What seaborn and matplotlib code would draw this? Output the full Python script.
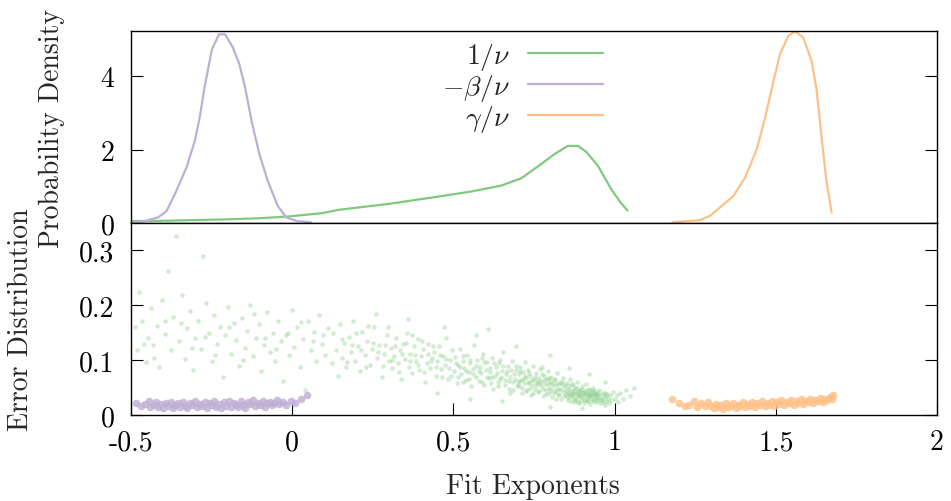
import matplotlib
matplotlib.use("Agg")
import matplotlib.pyplot as plt
import seaborn as sns
import pandas as pd

# ---------------- data: density curves ----------------
nu_x = [-0.500, -0.400, -0.300, -0.200, -0.100, -0.009, 0.094, 0.145, 0.299, 0.454, 0.557,
        0.649, 0.711, 0.773, 0.814, 0.855, 0.886, 0.912, 0.948, 0.989, 1.020, 1.040]
nu_y = [0.05, 0.06, 0.08, 0.10, 0.13, 0.18, 0.27, 0.36, 0.52, 0.72, 0.86,
        1.02, 1.22, 1.61, 1.88, 2.10, 2.10, 1.94, 1.56, 0.93, 0.54, 0.34]

beta_x = [-0.500, -0.457, -0.416, -0.390, -0.359, -0.328, -0.302, -0.287, -0.272, -0.249, -0.227,
          -0.208, -0.184, -0.164, -0.146, -0.126, -0.102, -0.076, -0.045, -0.019, 0.016, 0.058]
beta_y = [0.01, 0.05, 0.155, 0.32, 0.88, 1.51, 2.24, 2.87, 3.69, 4.73, 5.14,
          5.14, 4.78, 4.33, 3.69, 2.78, 1.88, 1.15, 0.47, 0.155, 0.05, 0.02]

gamma_x = [1.179, 1.266, 1.297, 1.369, 1.405, 1.441, 1.467, 1.493, 1.513, 1.539, 1.560,
           1.585, 1.611, 1.627, 1.642, 1.657, 1.673]
gamma_y = [0.02, 0.08, 0.20, 0.74, 1.24, 2.01, 2.87, 3.87, 4.60, 5.10, 5.22,
           5.05, 4.42, 3.60, 2.33, 1.15, 0.29]

# ---------------- data: error scatter (estimated representative points) ----------------
green_x = [
    -0.488, -0.482, -0.474, -0.466, -0.455, -0.447, -0.438, -0.431, -0.420, -0.412, -0.404, -0.396,
    -0.384, -0.377, -0.369, -0.359, -0.351, -0.343, -0.334, -0.326, -0.317, -0.309, -0.300, -0.292,
    -0.283, -0.276, -0.268, -0.259, -0.250, -0.242, -0.233, -0.225, -0.216, -0.207, -0.199, -0.190,
    -0.182, -0.173, -0.164, -0.156, -0.147, -0.139, -0.130, -0.121, -0.113, -0.104, -0.096, -0.087,
    -0.079, -0.070, -0.061, -0.053, -0.044, -0.036, -0.027, -0.019, -0.010, -0.002, 0.007, 0.015,
    0.024, 0.033, 0.041, 0.050, 0.058, 0.067, 0.075, 0.084, 0.092, 0.101, 0.110,
    -0.461, -0.428, -0.393, -0.346, -0.312, -0.271, -0.238, -0.196, -0.152, -0.118, -0.083, -0.049,
    -0.013, 0.028, 0.063, 0.097,
    0.122, 0.128, 0.135, 0.141, 0.148, 0.155, 0.161, 0.168, 0.175, 0.182, 0.189, 0.196, 0.203,
    0.210, 0.218, 0.225, 0.232, 0.240, 0.247, 0.255, 0.262, 0.270, 0.277, 0.285, 0.293, 0.300,
    0.305, 0.311, 0.316, 0.322, 0.327, 0.333, 0.338, 0.344, 0.350, 0.355, 0.361, 0.366, 0.372,
    0.378, 0.383, 0.389, 0.394, 0.400, 0.406, 0.411, 0.417, 0.422, 0.428, 0.434, 0.439, 0.445,
    0.450, 0.456, 0.462, 0.467, 0.473, 0.478, 0.484, 0.490, 0.495,
    0.502, 0.506, 0.511, 0.515, 0.520, 0.524, 0.529, 0.533, 0.538, 0.542, 0.547, 0.551, 0.556,
    0.560, 0.565, 0.569, 0.574, 0.578, 0.583, 0.587, 0.592, 0.596, 0.601, 0.605, 0.610, 0.614,
    0.619, 0.623, 0.628, 0.632, 0.637, 0.641, 0.646, 0.650, 0.655, 0.659, 0.664, 0.668, 0.673,
    0.677, 0.682, 0.686, 0.691, 0.695, 0.699, 0.608, 0.694, 0.570,
    0.702, 0.705, 0.708, 0.711, 0.714, 0.717, 0.720, 0.723, 0.726, 0.729, 0.732, 0.735, 0.738,
    0.741, 0.744, 0.747, 0.750, 0.753, 0.756, 0.759, 0.762, 0.765, 0.768, 0.771, 0.774, 0.777,
    0.780, 0.783, 0.786, 0.789, 0.792, 0.795, 0.798, 0.801, 0.804, 0.807, 0.810, 0.813, 0.816,
    0.819, 0.822, 0.825, 0.828, 0.831, 0.834, 0.837, 0.840, 0.843, 0.846, 0.849,
    0.852, 0.855, 0.857, 0.860, 0.862, 0.865, 0.868, 0.870, 0.873, 0.875, 0.878, 0.881, 0.883,
    0.886, 0.888, 0.891, 0.894, 0.896, 0.899, 0.901, 0.904, 0.907, 0.909, 0.912, 0.914, 0.917,
    0.920, 0.922, 0.925, 0.927, 0.930, 0.933, 0.935, 0.938, 0.940, 0.943, 0.946, 0.948, 0.951,
    0.953, 0.956, 0.959, 0.961, 0.964, 0.966, 0.969, 0.972, 0.974, 0.977, 0.980, 0.983, 0.986,
    0.990, 0.995, 1.000, 1.006, 1.012, 1.018, 1.025, 1.034, 1.048, 1.060,
    0.450, 0.550, 0.650, 0.800, 0.900, 0.360, 0.260, 0.470, 0.800, 0.860, 0.920, 0.970,
    0.153, 0.171, 0.186, 0.199, 0.214, 0.228, 0.236, 0.251, 0.266, 0.281, 0.289, 0.297, 0.309,
    0.319, 0.331, 0.341, 0.353, 0.364, 0.371, 0.382, 0.391, 0.403, 0.409, 0.420, 0.431, 0.437,
    0.447, 0.459, 0.466, 0.478,
    0.487, 0.494, 0.508, 0.513, 0.522, 0.531, 0.540, 0.549, 0.553, 0.562, 0.571, 0.580, 0.589,
    0.594, 0.603, 0.612, 0.617, 0.626, 0.634, 0.639, 0.648, 0.653, 0.661, 0.666, 0.671, 0.679,
    0.684, 0.688, 0.693, 0.697, 0.531, 0.588, 0.645, 0.675, 0.621,
    0.703, 0.707, 0.712, 0.716, 0.721, 0.725, 0.730, 0.734, 0.739, 0.743, 0.748, 0.752, 0.757,
    0.761, 0.766, 0.770, 0.775, 0.779, 0.784, 0.788, 0.793, 0.797, 0.802, 0.806, 0.811, 0.815,
    0.820, 0.824, 0.829, 0.833, 0.838, 0.842, 0.847, 0.776, 0.818,
    0.851, 0.854, 0.858, 0.861, 0.864, 0.867, 0.869, 0.872, 0.874, 0.877, 0.880, 0.882, 0.885,
    0.887, 0.890, 0.893, 0.895, 0.898, 0.900, 0.903, 0.906, 0.908, 0.911, 0.913, 0.916, 0.919,
    0.921, 0.924, 0.926, 0.929, 0.932, 0.934, 0.937, 0.939, 0.942, 0.945, 0.950, 0.958, 0.963,
    0.970]
green_y = [
    0.160, 0.118, 0.225, 0.172, 0.096, 0.140, 0.195, 0.128, 0.163, 0.087, 0.210, 0.148,
    0.262, 0.118, 0.178, 0.326, 0.135, 0.218, 0.102, 0.158, 0.190, 0.082, 0.141, 0.172,
    0.121, 0.290, 0.205, 0.150, 0.098, 0.183, 0.130, 0.161, 0.070, 0.145, 0.196, 0.112,
    0.168, 0.137, 0.090, 0.176, 0.122, 0.153, 0.201, 0.108, 0.140, 0.165, 0.080, 0.128,
    0.187, 0.115, 0.150, 0.098, 0.172, 0.134, 0.062, 0.145, 0.110, 0.192, 0.124, 0.160,
    0.088, 0.139, 0.045, 0.172, 0.118, 0.151, 0.098, 0.182, 0.130, 0.110, 0.158,
    0.130, 0.104, 0.172, 0.168, 0.122, 0.142, 0.110, 0.160, 0.100, 0.185, 0.140, 0.120,
    0.150, 0.170, 0.135, 0.145,
    0.095, 0.150, 0.118, 0.072, 0.165, 0.104, 0.131, 0.088, 0.142, 0.115, 0.172, 0.098, 0.125,
    0.080, 0.152, 0.110, 0.135, 0.092, 0.120, 0.160, 0.103, 0.128, 0.070, 0.112, 0.145, 0.098,
    0.122, 0.085, 0.108, 0.140, 0.095, 0.118, 0.065, 0.130, 0.102, 0.150, 0.088, 0.112, 0.076,
    0.125, 0.098, 0.138, 0.082, 0.108, 0.120, 0.060, 0.094, 0.130, 0.086, 0.104, 0.115, 0.072,
    0.098, 0.126, 0.083, 0.108, 0.092, 0.140, 0.066, 0.100, 0.118,
    0.080, 0.105, 0.058, 0.092, 0.120, 0.074, 0.098, 0.086, 0.064, 0.110, 0.078, 0.094, 0.052,
    0.084, 0.128, 0.070, 0.100, 0.062, 0.088, 0.076, 0.112, 0.055, 0.082, 0.096, 0.068, 0.078,
    0.104, 0.048, 0.072, 0.088, 0.060, 0.094, 0.066, 0.080, 0.115, 0.054, 0.074, 0.090, 0.062,
    0.070, 0.098, 0.045, 0.066, 0.082, 0.058, 0.157, 0.126, 0.145,
    0.074, 0.052, 0.088, 0.064, 0.040, 0.078, 0.058, 0.096, 0.068, 0.046, 0.082, 0.060, 0.072,
    0.036, 0.054, 0.090, 0.064, 0.048, 0.076, 0.058, 0.042, 0.068, 0.084, 0.052, 0.062, 0.034,
    0.072, 0.056, 0.046, 0.066, 0.080, 0.050, 0.040, 0.060, 0.070, 0.032, 0.052, 0.064, 0.044,
    0.056, 0.076, 0.038, 0.048, 0.060, 0.030, 0.054, 0.068, 0.042, 0.050, 0.036,
    0.058, 0.040, 0.028, 0.048, 0.066, 0.034, 0.044, 0.054, 0.024, 0.038, 0.050, 0.030, 0.060,
    0.042, 0.036, 0.022, 0.046, 0.032, 0.052, 0.040, 0.028, 0.044, 0.036, 0.056, 0.026, 0.038,
    0.048, 0.032, 0.020, 0.042, 0.034, 0.050, 0.028, 0.038, 0.044, 0.024, 0.032, 0.040, 0.030,
    0.046, 0.022, 0.036, 0.028, 0.040, 0.032, 0.018, 0.034, 0.026, 0.038, 0.030, 0.022, 0.036,
    0.028, 0.042, 0.030, 0.036, 0.024, 0.040, 0.030, 0.046, 0.034, 0.050,
    0.040, 0.030, 0.025, 0.015, 0.012, 0.175, 0.185, 0.160, 0.110, 0.085, 0.075, 0.060,
    0.138, 0.097, 0.128, 0.150, 0.118, 0.087, 0.162, 0.132, 0.115, 0.090, 0.128, 0.160, 0.100,
    0.126, 0.078, 0.112, 0.132, 0.098, 0.145, 0.110, 0.092, 0.135, 0.078, 0.112, 0.098, 0.125,
    0.088, 0.110, 0.070, 0.102,
    0.086, 0.072, 0.094, 0.070, 0.088, 0.108, 0.080, 0.066, 0.100, 0.074, 0.090, 0.080, 0.060,
    0.096, 0.070, 0.086, 0.058, 0.094, 0.076, 0.052, 0.070, 0.090, 0.064, 0.080, 0.048, 0.082,
    0.060, 0.074, 0.090, 0.052, 0.060, 0.104, 0.100, 0.040, 0.070,
    0.062, 0.080, 0.050, 0.066, 0.072, 0.044, 0.058, 0.076, 0.050, 0.064, 0.040, 0.070, 0.054,
    0.062, 0.044, 0.058, 0.074, 0.048, 0.064, 0.038, 0.056, 0.068, 0.046, 0.058, 0.040, 0.066,
    0.048, 0.056, 0.036, 0.046, 0.060, 0.034, 0.054, 0.088, 0.030,
    0.044, 0.032, 0.052, 0.038, 0.026, 0.056, 0.040, 0.032, 0.046, 0.028, 0.040, 0.050, 0.034,
    0.024, 0.044, 0.036, 0.028, 0.042, 0.048, 0.034, 0.022, 0.040, 0.030, 0.046, 0.034, 0.026,
    0.040, 0.036, 0.030, 0.046, 0.026, 0.036, 0.042, 0.032, 0.038, 0.028, 0.036, 0.030, 0.024,
    0.040]

purple_x = [
    -0.485, -0.470, -0.458, -0.445, -0.440,
    -0.430, -0.422, -0.415, -0.407, -0.400, -0.392, -0.385, -0.377, -0.370, -0.362, -0.355,
    -0.347, -0.340, -0.332, -0.325, -0.317, -0.310, -0.302, -0.295, -0.287, -0.280, -0.272,
    -0.265, -0.257, -0.250, -0.242, -0.235, -0.227, -0.220, -0.212, -0.205, -0.197, -0.190,
    -0.182, -0.175, -0.167, -0.160, -0.152, -0.145, -0.137, -0.130, -0.122, -0.115, -0.107,
    -0.100, -0.092, -0.085, -0.077, -0.070, -0.062, -0.055, -0.048, -0.040,
    -0.030, -0.018, -0.005, 0.010, 0.028, 0.045]
purple_y = [
    0.022, 0.016, 0.020, 0.025, 0.014,
    0.018, 0.023, 0.014, 0.020, 0.012, 0.022, 0.016, 0.024, 0.013, 0.019, 0.021,
    0.015, 0.024, 0.017, 0.012, 0.022, 0.018, 0.025, 0.014, 0.020, 0.016, 0.023,
    0.013, 0.021, 0.018, 0.025, 0.015, 0.020, 0.012, 0.023, 0.017, 0.026, 0.015,
    0.021, 0.019, 0.014, 0.025, 0.018, 0.013, 0.023, 0.020, 0.027, 0.016, 0.022,
    0.018, 0.025, 0.015, 0.021, 0.024, 0.018, 0.022, 0.027, 0.020,
    0.024, 0.019, 0.026, 0.022, 0.030, 0.036]

orange_x = [
    1.179, 1.200, 1.218, 1.232, 1.245, 1.256, 1.268, 1.280, 1.290,
    1.300, 1.307, 1.315, 1.322, 1.330, 1.337, 1.345, 1.352, 1.360, 1.367, 1.375, 1.382, 1.390,
    1.397, 1.405, 1.412, 1.420, 1.427, 1.435, 1.442, 1.450, 1.457, 1.465, 1.472, 1.480, 1.487,
    1.495, 1.502, 1.510, 1.517, 1.525, 1.532, 1.540, 1.547, 1.555, 1.562, 1.570, 1.577, 1.585,
    1.592, 1.600, 1.607, 1.615, 1.622, 1.630, 1.637, 1.645, 1.652, 1.660, 1.667, 1.674, 1.678]
orange_y = [
    0.029, 0.022, 0.016, 0.019, 0.025, 0.015, 0.021, 0.017, 0.024,
    0.016, 0.012, 0.020, 0.014, 0.018, 0.011, 0.021, 0.015, 0.017, 0.022, 0.013, 0.019, 0.016,
    0.023, 0.014, 0.020, 0.017, 0.024, 0.015, 0.021, 0.018, 0.025, 0.016, 0.022, 0.019, 0.026,
    0.017, 0.023, 0.020, 0.027, 0.018, 0.024, 0.021, 0.028, 0.019, 0.025, 0.022, 0.029, 0.020,
    0.026, 0.024, 0.030, 0.022, 0.028, 0.025, 0.031, 0.024, 0.030, 0.027, 0.033, 0.029, 0.036]

labels = [r"$1/\nu$", r"$-\beta/\nu$", r"$\gamma/\nu$"]
x_ticks = [-0.5, 0, 0.5, 1, 1.5, 2]
x_tick_labels = ["-0.5", "0", "0.5", "1", "1.5", "2"]
top_ticks = [0, 2, 4]
top_tick_labels = ["0", "2", "4"]
bot_ticks = [0, 0.1, 0.2, 0.3]
bot_tick_labels = ["0", "0.1", "0.2", "0.3"]

# ---------------- style ----------------
sns.set_theme(style="ticks")
FS = 20
plt.rcParams.update({
    "font.family": ["cmr10", "DejaVu Serif"],
    "mathtext.fontset": "cm",
    "axes.unicode_minus": False,
    "axes.formatter.use_mathtext": True,
    "axes.edgecolor": "black",
    "axes.linewidth": 1.0,
    "font.size": FS,
})
pal = sns.color_palette("Accent", 3)
c_green, c_purple, c_orange = pal[0], pal[1], pal[2]

W, H = 951, 502
fig, (ax1, ax2) = plt.subplots(2, 1, figsize=(W / 100, H / 100), dpi=100, sharex=True)
fig.subplots_adjust(left=131 / W, right=937 / W, top=1 - 32 / H, bottom=1 - 416 / H, hspace=0)

dens = pd.DataFrame({"x": nu_x + beta_x + gamma_x,
                     "y": nu_y + beta_y + gamma_y,
                     "s": [labels[0]] * len(nu_x) + [labels[1]] * len(beta_x) + [labels[2]] * len(gamma_x)})
for lab, col in zip(labels, [c_green, c_purple, c_orange]):
    sub = dens[dens["s"] == lab]
    sns.lineplot(data=sub, x="x", y="y", color=col, lw=1.6, ax=ax1, label=lab, sort=False)

sns.scatterplot(x=green_x, y=green_y, color=c_green, s=11, alpha=0.35, linewidth=0, ax=ax2)
sns.scatterplot(x=purple_x, y=purple_y, color=c_purple, s=30, alpha=0.8, linewidth=0, ax=ax2)
sns.scatterplot(x=orange_x, y=orange_y, color=c_orange, s=30, alpha=0.8, linewidth=0, ax=ax2)

ax1.set_xlim(-0.5, 2)
ax1.set_ylim(0, 5.23)
ax2.set_ylim(0, 0.35)
ax1.set_yticks(top_ticks)
ax1.set_yticklabels(top_tick_labels)
ax2.set_yticks(bot_ticks)
ax2.set_yticklabels(bot_tick_labels)
ax2.set_xticks(x_ticks)
ax2.set_xticklabels(x_tick_labels)
for ax in (ax1, ax2):
    ax.set_xlabel("")
    ax.set_ylabel("")
    for sp in ax.spines.values():
        sp.set_visible(True)
        sp.set_color("black")
    ax.tick_params(axis="y", direction="in", length=8.6, width=0.8, left=True, right=True,
                   labelsize=FS, pad=12, colors="black")
ax1.tick_params(axis="x", bottom=False, top=False, labelbottom=False)
ax2.tick_params(axis="x", direction="in", length=8.6, width=0.8, bottom=True, top=False,
                labelsize=FS, pad=10, colors="black")

leg = ax1.legend(loc="upper right", bbox_to_anchor=(603 / W, 1 - 42 / H), bbox_transform=fig.transFigure,
                 frameon=False, markerfirst=False, handlelength=2.7, handletextpad=0.65,
                 labelspacing=0.0, borderpad=0, borderaxespad=0, fontsize=FS)

fig.text(533 / W, 1 - 487 / H, "Fit Exponents", ha="center", va="center", fontsize=FS)
fig.text(52 / W, 1 - 128 / H, "Probability Density", ha="center", va="center", rotation=90, fontsize=FS)
fig.text(21 / W, 1 - 320 / H, "Error Distribution", ha="center", va="center", rotation=90, fontsize=FS)

fig.savefig("out.png", dpi=100, facecolor="white")
